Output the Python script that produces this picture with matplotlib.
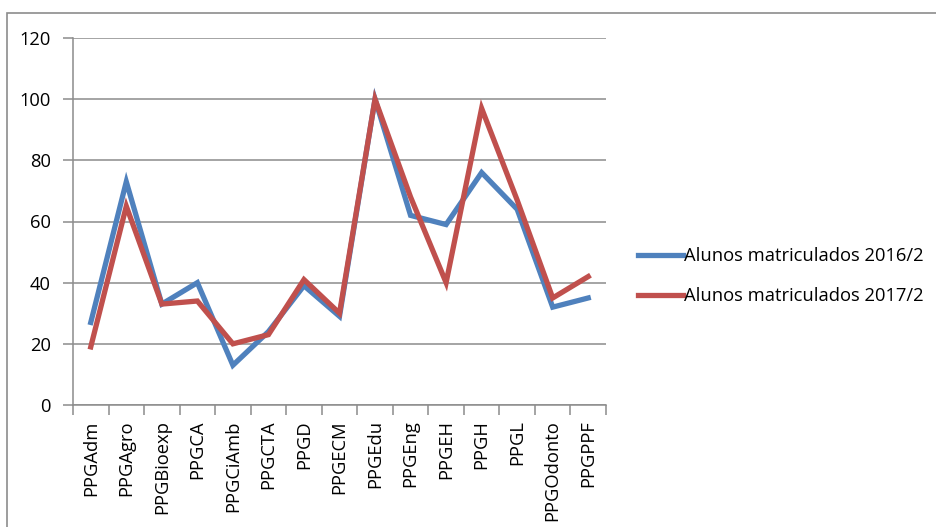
import matplotlib
matplotlib.use("Agg")
import matplotlib.pyplot as plt
from matplotlib.patches import Rectangle
import numpy as np

plt.rcParams['font.family'] = ['Open Sans', 'DejaVu Sans']

categories = ["PPGAdm", "PPGAgro", "PPGBioexp", "PPGCA", "PPGCiAmb", "PPGCTA", "PPGD",
              "PPGECM", "PPGEdu", "PPGEng", "PPGEH", "PPGH", "PPGL", "PPGOdonto", "PPGPPF"]
alunos_2016 = [27, 73, 33, 40, 13, 24, 39, 29, 100, 62, 59, 76, 64, 32, 35]
alunos_2017 = [19, 65, 33, 34, 20, 23, 41, 30, 100, 68, 40, 97, 67, 35, 42]
series_labels = ["Alunos matriculados 2016/2", "Alunos matriculados 2017/2"]
yticks = [0, 20, 40, 60, 80, 100, 120]

W, H = 936, 527
FS = 13.2
fig = plt.figure(figsize=(W / 100, H / 100), dpi=100)

# outer chart frame (cut off at right and bottom)
fig.patches.append(Rectangle((7 / W, -0.05), 1.2, 1 - 13 / H + 0.05,
                             transform=fig.transFigure, fill=False,
                             edgecolor="#8c8c8c", linewidth=1.2))

ax = fig.add_axes([73 / W, (H - 405) / H, 533 / W, (405 - 38) / H])
x = np.arange(len(categories))
ax.plot(x, alunos_2016, color="#4F81BD", lw=3.8, label=series_labels[0], solid_joinstyle="miter")
ax.plot(x, alunos_2017, color="#C0504D", lw=3.8, label=series_labels[1], solid_joinstyle="miter")

ax.set_xlim(-0.5, len(categories) - 0.5)
ax.set_ylim(0, 120)
ax.set_yticks(yticks)
ax.set_yticklabels([str(v) for v in yticks], fontsize=FS)
ax.grid(axis="y", color="#8c8c8c", lw=1.1)
ax.set_axisbelow(True)

ax.set_xticks(x)
ax.set_xticklabels(categories, rotation=90, fontsize=FS)
ax.set_xticks(np.arange(-0.5, len(categories)), minor=True)
ax.tick_params(axis="x", which="major", length=0, pad=11)
ax.tick_params(axis="x", which="minor", length=7, color="#8c8c8c", width=1.1, direction="out")
ax.tick_params(axis="y", length=7, color="#8c8c8c", width=1.1, pad=9)

for s in ["top", "right"]:
    ax.spines[s].set_visible(False)
for s in ["left", "bottom"]:
    ax.spines[s].set_color("#8c8c8c")
    ax.spines[s].set_linewidth(1.1)

handles, labels = ax.get_legend_handles_labels()
fig.legend(handles, labels, loc="center left", bbox_to_anchor=(631 / W, 1 - 276 / H),
           frameon=False, fontsize=FS, handlelength=2.45, handletextpad=0.05,
           labelspacing=1.2, borderaxespad=0)

fig.savefig("out.png", dpi=100)
